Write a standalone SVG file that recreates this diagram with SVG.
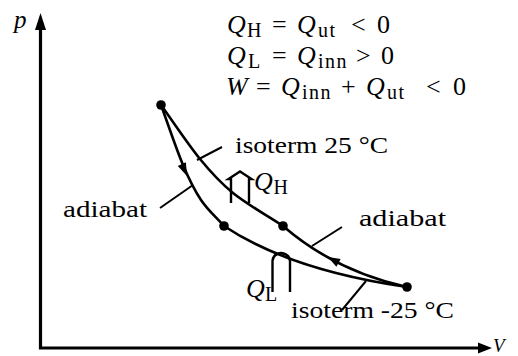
<svg xmlns="http://www.w3.org/2000/svg" width="518" height="356" viewBox="0 0 518 356">
<style>
text{font-family:'Liberation Serif','DejaVu Serif',serif;fill:#000}
.t{font-size:23px}
.m{font-size:26px}
.it{font-style:italic}
.s{font-size:20px}
.w{letter-spacing:1.5px}
.c{fill:none;stroke:#000;stroke-width:2.6;stroke-linecap:round;stroke-linejoin:round}
.l{fill:none;stroke:#000;stroke-width:2}
.ax{fill:none;stroke:#000;stroke-width:3.2}
.h{fill:#000;stroke:none}
.q{fill:none;stroke:#000;stroke-width:2.4;stroke-linejoin:miter}
</style>
<rect width="518" height="356" fill="#fff"/>
<g id="axes">
<path class="ax" d="M40.5,28 V348 H480"/>
<polygon class="h" points="40.5,13 35,30 46,30"/>
<polygon class="h" points="492,348 478,342.5 478,353.5"/>
<text class="m it" x="14" y="28" style="font-size:25px">p</text>
<text class="m it" x="493" y="351.5" style="font-size:19px">V</text>
</g>
<g id="equations">
<text class="m" y="33"><tspan x="227" class="it">Q</tspan><tspan x="247" y="37" class="s">H</tspan><tspan x="272" y="33">=</tspan><tspan x="297" class="it">Q</tspan><tspan x="318" y="37" class="s w">ut</tspan><tspan x="351" y="33">&lt;</tspan><tspan x="377">0</tspan></text>
<text class="m" y="64"><tspan x="227" class="it">Q</tspan><tspan x="248" y="68" class="s">L</tspan><tspan x="272" y="64">=</tspan><tspan x="297" class="it">Q</tspan><tspan x="318" y="68" class="s w">inn</tspan><tspan x="356" y="64">&gt;</tspan><tspan x="381">0</tspan></text>
<text class="m" y="95"><tspan x="226" class="it">W</tspan><tspan x="256" y="95">=</tspan><tspan x="281" class="it">Q</tspan><tspan x="302" y="99" class="s w">inn</tspan><tspan x="341" y="95">+</tspan><tspan x="366" class="it">Q</tspan><tspan x="387" y="99" class="s w">ut</tspan><tspan x="426" y="95">&lt;</tspan><tspan x="453">0</tspan></text>
</g>
<g id="connectors">
<path id="isoterm-hot" class="c" d="M161,105 C174,123 188,144.3 200,159 C212,173.7 219.2,181.8 233,193 C246.8,204.2 266.3,215 283,226"/>
<path id="adiabat-left" class="c" d="M161,105 C168.3,125 176.3,149.2 183,165 C189.7,180.8 194.2,189.8 201,200 C207.8,210.2 216.3,217.3 224,226"/>
<path id="isoterm-cold" class="c" d="M224,226 Q290,270 407,287"/>
<path id="adiabat-right" class="c" d="M283,226 Q335,271 407,287"/>
<polygon class="h" points="187,176 185.9,162.3 177.8,166.1"/>
<polygon class="h" points="328,257 336.3,266.7 340.7,258.9"/>
<path class="l" d="M222,147 L197,160"/>
<path class="l" d="M160,208 L193,185"/>
<path class="l" d="M342,227 L312,246"/>
<path class="l" d="M366,281 L342,310"/>
<path id="QH-arrow" class="q" d="M231,203 V179 H228.5 L240,171.5 L251.5,179 H249 V203"/>
<path id="QL-arrow" class="q" d="M272.5,292 V261 Q273,254 281,253 Q289.5,254 290,261 V292"/>
</g>
<g id="n1"><circle cx="161" cy="105" r="4.8"/></g>
<g id="n2"><circle cx="224" cy="226" r="4.8"/></g>
<g id="n3"><circle cx="283" cy="226" r="4.8"/></g>
<g id="n4"><circle cx="407" cy="287" r="4.8"/></g>
<g id="labels">
<text class="t" x="235" y="153" textLength="153" lengthAdjust="spacingAndGlyphs">isoterm 25 °C</text>
<text class="t" x="63" y="217" textLength="84" lengthAdjust="spacingAndGlyphs">adiabat</text>
<text class="t" x="359" y="226" textLength="87" lengthAdjust="spacingAndGlyphs">adiabat</text>
<text class="t" x="291" y="318" textLength="163" lengthAdjust="spacingAndGlyphs">isoterm -25 °C</text>
<text class="m"><tspan x="254" y="190" class="it">Q</tspan><tspan x="273.5" y="194" class="s">H</tspan></text>
<text class="m"><tspan x="246" y="297" class="it">Q</tspan><tspan x="265" y="301" class="s">L</tspan></text>
</g>
</svg>
